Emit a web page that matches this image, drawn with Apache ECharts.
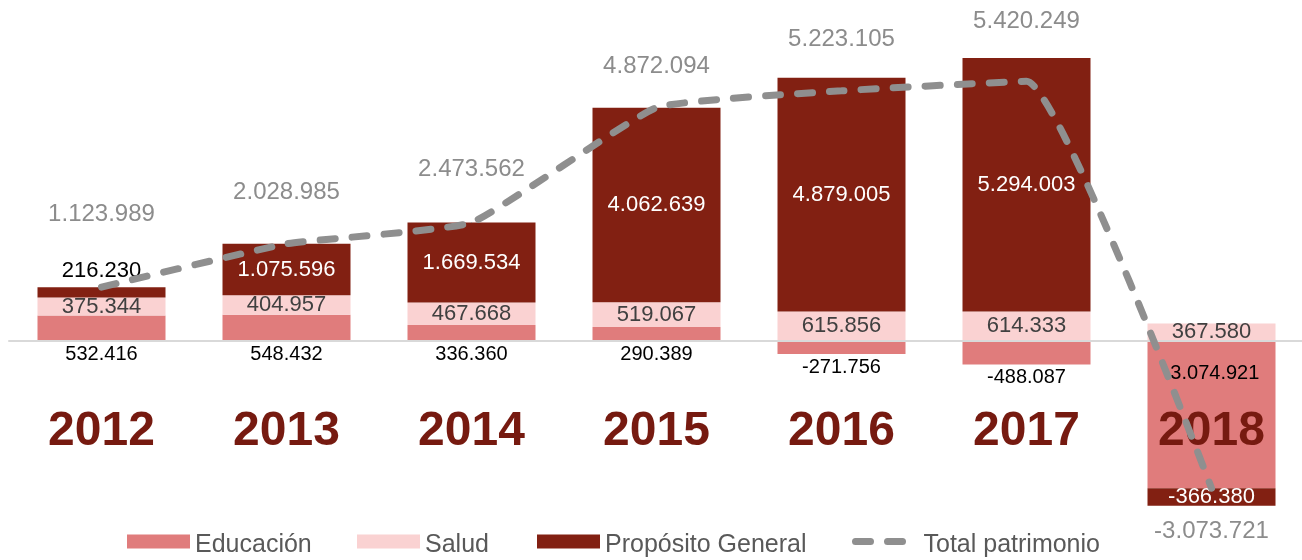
<!DOCTYPE html>
<html>
<head>
<meta charset="utf-8">
<script src="https://cdn.jsdelivr.net/npm/echarts@6/dist/echarts.min.js"></script>
<style>
  html, body { margin: 0; padding: 0; background: #ffffff; }
  #chart { width: 1302px; height: 560px; }
</style>
</head>
<body>
<div id="chart"></div>
<script>
// Categories and series values
const years = ['2012', '2013', '2014', '2015', '2016', '2017', '2018'];
const educacion = [532416, 548432, 336360, 290389, -271756, -488087, -3074921];
const salud = [375344, 404957, 467668, 519067, 615856, 614333, 367580];
const propositoGeneral = [216230, 1075596, 1669534, 4062639, 4879005, 5294003, -366380];
const totalPatrimonio = [1123989, 2028985, 2473562, 4872094, 5223105, 5420249, -3073721];

// Vertical shift (px) of each total label away from its point
const totalLabelShift = [-73, -51, -53, -41, -51, -60, 43];

const COLOR_EDU = '#E07C7C';
const COLOR_SAL = '#FAD2D2';
const COLOR_PRO = '#822012';
const COLOR_TOTAL = '#8F8F8F';
const COLOR_YEAR = '#761A10';
const FONT = '"Liberation Sans", Arial, sans-serif';

// Spanish style thousands separator: 1.234.567
function fmt(v) {
  const s = Math.abs(Math.round(v)).toString().replace(/\B(?=(\d{3})+(?!\d))/g, '.');
  return (v < 0 ? '-' : '') + s;
}
const valueLabel = p => fmt(p.value);

const chart = echarts.init(document.getElementById('chart'), null, { renderer: 'canvas' });

// legend names sit slightly below the middle of their swatches
const legendBase = {
  top: 532.5,
  padding: 0,
  itemWidth: 63,
  itemHeight: 14,
  itemGap: 0,
  formatter: '{t|{name}}',
  textStyle: {
    fontSize: 25, color: '#595959', fontFamily: FONT,
    rich: { t: { fontSize: 25, color: '#595959', fontFamily: FONT, padding: [7, 0, 0, 0] } }
  },
  selectedMode: false
};

chart.setOption({
  animation: false,
  textStyle: { fontFamily: FONT },
  grid: { left: 9, width: 1295, top: 53.6, height: 479, containLabel: false, outerBoundsMode: 'none' },
  legend: [
    Object.assign({ left: 127, icon: 'rect', data: ['Educación'] }, legendBase),
    Object.assign({ left: 357, icon: 'rect', data: ['Salud'] }, legendBase),
    Object.assign({ left: 537, icon: 'rect', data: ['Propósito General'] }, legendBase),
    Object.assign({
      left: 852,
      data: [{ name: 'Total patrimonio', itemStyle: { color: 'rgba(0,0,0,0)', borderWidth: 0 } }],
      lineStyle: { width: 7, type: [15, 17], cap: 'round', color: COLOR_TOTAL }
    }, legendBase)
  ],
  xAxis: {
    type: 'category',
    data: years,
    z: 3,
    axisLine: { onZero: true, lineStyle: { color: '#D9D9D9', width: 2 } },
    axisTick: { show: false },
    // year labels sit a fixed distance under the zero line, above the plot bottom
    axisLabel: { fontSize: 48, fontWeight: 'bold', color: COLOR_YEAR, margin: -125, fontFamily: FONT }
  },
  yAxis: {
    type: 'value',
    min: -4000000,
    max: 6000000,
    show: false,
    splitLine: { show: false }
  },
  series: [
    {
      name: 'Educación',
      type: 'bar',
      stack: 'patrimonio',
      barWidth: 128,
      z: 2,
      itemStyle: { color: COLOR_EDU },
      emphasis: { disabled: true },
      label: { show: true, position: 'bottom', distance: 3, color: '#000000', fontSize: 20, formatter: valueLabel },
      data: educacion.map((v, i) => i === 6
        ? { value: v, label: { position: 'insideTop', distance: 22 } }
        : v)
    },
    {
      name: 'Salud',
      type: 'bar',
      stack: 'patrimonio',
      barWidth: 128,
      z: 2,
      itemStyle: { color: COLOR_SAL },
      emphasis: { disabled: true },
      label: { show: true, position: 'inside', color: '#404040', fontSize: 22, formatter: valueLabel },
      data: salud
    },
    {
      name: 'Propósito General',
      type: 'bar',
      stack: 'patrimonio',
      barWidth: 128,
      z: 2,
      itemStyle: { color: COLOR_PRO },
      emphasis: { disabled: true },
      label: { show: true, position: 'inside', color: '#ffffff', fontSize: 22, formatter: valueLabel },
      data: propositoGeneral.map((v, i) => i === 0
        ? { value: v, label: { position: 'top', distance: 5, color: '#000000' } }
        : v)
    },
    {
      name: 'Total patrimonio',
      type: 'line',
      z: 4,
      smooth: 0.12,
      symbol: 'circle',
      symbolSize: 1,
      showSymbol: true,
      emphasis: { disabled: true },
      itemStyle: { color: COLOR_TOTAL },
      lineStyle: { color: COLOR_TOTAL, width: 7, type: [15, 17], cap: 'round' },
      label: { show: true, position: 'inside', color: '#8C8C8C', fontSize: 24, formatter: valueLabel },
      data: totalPatrimonio.map((v, i) => ({ value: v, label: { offset: [0, totalLabelShift[i]] } }))
    }
  ]
});
</script>
</body>
</html>
